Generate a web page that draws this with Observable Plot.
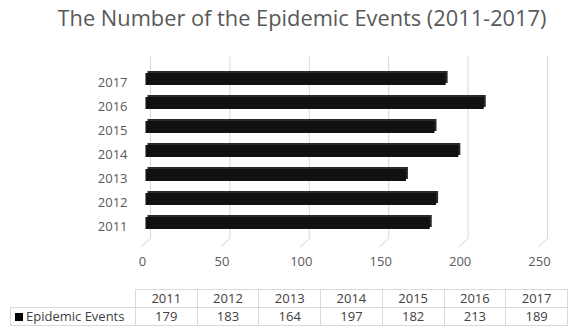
<!DOCTYPE html>
<html><head><meta charset="utf-8">
<script src="https://cdn.jsdelivr.net/npm/d3@7"></script>
<script src="https://cdn.jsdelivr.net/npm/@observablehq/plot@0.6"></script>
<style>
body{margin:0;background:#fff;font-family:"Open Sans",sans-serif;}
#wrap{position:relative;width:568px;height:330px;overflow:hidden;background:#fff;}
#title{position:absolute;left:0;top:3px;width:604px;text-align:center;font-size:21.8px;line-height:30px;color:#595959;white-space:nowrap;}
#chart{position:absolute;left:0;top:40px;}
#tbl{position:absolute;left:10px;top:289px;border-collapse:collapse;font-size:13px;color:#404040;}
#tbl td{border:1px solid #d9d9d9;text-align:center;padding:0;height:17px;width:61px;line-height:17px;}
#tbl td.lab{width:120px;text-align:left;padding-left:4px;white-space:nowrap;}
#tbl td.blank{border-top:none;border-left:none;}
.sq{display:inline-block;width:8px;height:8px;background:#000;margin-right:3px;vertical-align:0px;}
</style></head>
<body>
<div id="wrap">
  <div id="title"></div>
  <div id="chart"></div>
  <table id="tbl"></table>
</div>
<script>
const titleText = "The Number of the Epidemic Events (2011-2017)";
const seriesName = "Epidemic Events";
const years = ["2011","2012","2013","2014","2015","2016","2017"];
const values = [179,183,164,197,182,213,189];
const xTicks = [0,50,100,150,200,250];

document.getElementById("title").textContent = titleText;

const data = years.map((y,i)=>({year:y, value:values[i]}));
const grid = "#d9d9d9";
const textColor = "#595959";

const lineShape = {draw(context, l){ context.moveTo(0,0); context.lineTo(0,-l); }};

const svg = Plot.plot({
  width: 568,
  height: 245,
  marginLeft: 150,
  marginRight: 21,
  marginTop: 16,
  marginBottom: 47,
  style: {fontFamily: "'Open Sans', sans-serif", fontSize: "13px", color: textColor, background: "#fff", overflow: "visible"},
  x: {domain: [0,250], axis: null},
  y: {domain: years.slice().reverse(), axis: null, padding: 0.51},
  marks: [
    Plot.ruleX(xTicks, {stroke: grid, strokeWidth: 1}),
    Plot.vector(xTicks, {x: d=>d, frameAnchor: "bottom", length: 12, rotate: 228, anchor: "start", shape: lineShape, stroke: grid, strokeWidth: 1}),
    Plot.text(xTicks, {x: d=>d, text: d=>String(d), frameAnchor: "bottom", dy: 27, dx: -8, fill: textColor, fontSize: 13}),
    Plot.barX(data, {x: "value", y: "year", fill: "#2a2a2a", dx: -2.5, dy: 2}),
    Plot.barX(data, {x: "value", y: "year", fill: "#111111", dx: -4.5, dy: 4}),
    Plot.text(years, {y: d=>d, text: d=>d, frameAnchor: "left", textAnchor: "end", dx: -23, dy: 7.5, fill: textColor, fontSize: 13})
  ]
});
document.getElementById("chart").appendChild(svg);

// data table
const tbl = document.getElementById("tbl");
const r1 = document.createElement("tr");
const c0 = document.createElement("td"); c0.className = "lab blank"; r1.appendChild(c0);
years.forEach(y=>{ const td=document.createElement("td"); td.textContent=y; r1.appendChild(td); });
const r2 = document.createElement("tr");
const l = document.createElement("td"); l.className="lab";
l.innerHTML = '<span class="sq"></span>'; l.appendChild(document.createTextNode(seriesName));
r2.appendChild(l);
values.forEach(v=>{ const td=document.createElement("td"); td.textContent=v; r2.appendChild(td); });
tbl.appendChild(r1); tbl.appendChild(r2);
</script>
</body></html>
